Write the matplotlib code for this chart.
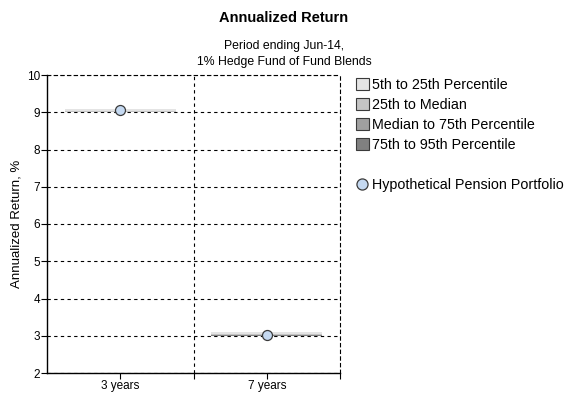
"""Annualized return percentile bars with a hypothetical portfolio marker."""

import matplotlib.pyplot as plt
from matplotlib.lines import Line2D
from matplotlib.patches import Patch

plt.switch_backend("Agg")
plt.rcParams["font.family"] = ["Liberation Sans", "DejaVu Sans"]

periods = ["3 years", "7 years"]
p95 = [9.00, 3.00]
p75 = [9.01, 3.01]
p50 = [9.02, 3.02]
p25 = [9.04, 3.04]
p5 = [9.10, 3.10]
portfolio = [9.07, 3.01]

band_labels = [
    "5th to 25th Percentile",
    "25th to Median",
    "Median to 75th Percentile",
    "75th to 95th Percentile",
]
band_colors = ["#e4e4e4", "#c4c4c4", "#a0a0a0", "#808080"]
MARKER = "#c5d9f1"
EDGE = "#3a3a3a"

fig = plt.figure(figsize=(5.68, 3.97), dpi=100)
ax = fig.add_axes([47 / 568, 24 / 397, 293 / 568, 298 / 397])

x = list(range(len(periods)))
width = 0.755
# stacked from the 95th (bottom) up to the 5th (top)
edges = [p95, p75, p50, p25, p5]
for i in range(4):
    lo = edges[3 - i]
    hi = edges[4 - i]
    ax.bar(
        x,
        [h - l for h, l in zip(hi, lo)],
        bottom=lo,
        width=width,
        color=band_colors[i],
        linewidth=0,
        zorder=3,
    )

ax.plot(
    x,
    portfolio,
    linestyle="none",
    marker="o",
    markersize=7.2,
    markerfacecolor=MARKER,
    markeredgecolor=EDGE,
    markeredgewidth=0.9,
    zorder=4,
)

ax.set_xlim(-0.5, len(periods) - 0.5)
ax.set_ylim(2, 10)
ax.set_yticks(range(2, 11))
ax.set_xticks(x, periods)
ax.set_xticks([0.5, 1.5], minor=True)
ax.tick_params(axis="both", labelsize=8.5, length=4, width=0.8, color="black", pad=1)
ax.tick_params(axis="x", which="minor", length=4, width=0.8)
ax.yaxis.grid(True, color="black", linestyle=(0, (3, 3)), linewidth=0.8)
ax.axvline(0.5, color="black", linestyle=(0, (3, 3)), linewidth=0.8, zorder=1)
ax.set_axisbelow(True)
for side in ["top", "right"]:
    ax.spines[side].set_linestyle((0, (3, 3)))
    ax.spines[side].set_linewidth(0.8)
ax.spines["left"].set_linewidth(1.0)
ax.spines["bottom"].set_linewidth(1.0)
ax.set_ylabel("Annualized Return, %", fontsize=9.5)
ax.yaxis.set_label_coords(-0.082, 0.5)

fig.text(0.5, 1 - 18 / 397, "Annualized Return", ha="center", va="center",
         fontsize=10.5, fontweight="bold")
fig.text(0.5, 1 - 54 / 397, "Period ending Jun-14,\n1% Hedge Fund of Fund Blends",
         ha="center", va="center", fontsize=8.8, linespacing=1.35)

handles = [Patch(facecolor=c, edgecolor=EDGE, linewidth=0.8) for c in band_colors]
handles.append(Patch(facecolor="none", edgecolor="none"))
handles.append(Line2D([], [], linestyle="none", marker="o", markersize=8,
                      markerfacecolor=MARKER, markeredgecolor=EDGE,
                      markeredgewidth=0.9))
labels = band_labels + ["", "Hypothetical Pension Portfolio"]
fig.legend(
    handles,
    labels,
    loc="upper left",
    bbox_to_anchor=(356 / 568, 1 - 78 / 397),
    frameon=False,
    fontsize=10.3,
    handlelength=0.9,
    handleheight=0.9,
    handletextpad=0.25,
    labelspacing=0.42,
    borderaxespad=0,
    borderpad=0,
)

fig.savefig("out.png", dpi=100)
